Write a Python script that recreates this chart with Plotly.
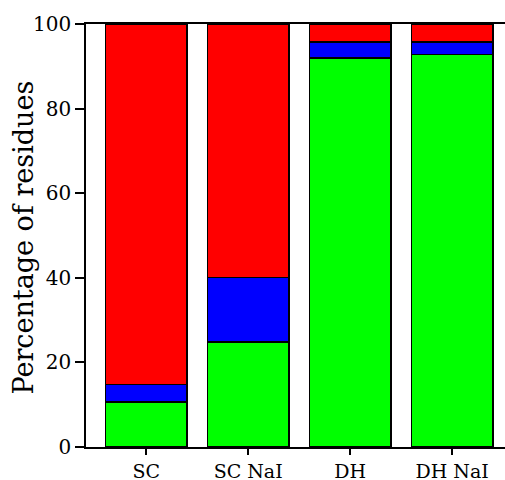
import plotly.graph_objects as go

categories = ["SC", "SC NaI", "DH", "DH NaI"]
green_vals = [10.6, 24.8, 92.0, 92.8]
blue_vals = [4.2, 15.3, 3.7, 2.9]
red_vals = [100 - g - b for g, b in zip(green_vals, blue_vals)]
y_title = "Percentage of residues"

fig = go.Figure()
x = list(range(len(categories)))
for vals, color in [(green_vals, "#00ff00"), (blue_vals, "#0000ff"), (red_vals, "#ff0000")]:
    fig.add_trace(go.Bar(
        x=x, y=vals, width=0.8,
        marker=dict(color=color, line=dict(color="black", width=1.5)),
        showlegend=False,
    ))

font_family = "DejaVu Serif"
fig.update_layout(
    barmode="stack",
    width=505, height=480,
    margin=dict(l=86, r=0, t=24, b=33, autoexpand=False),
    plot_bgcolor="white", paper_bgcolor="white",
    font=dict(family=font_family, color="black"),
)
fig.add_annotation(
    text=y_title, textangle=-90, showarrow=False,
    xref="paper", yref="paper", x=0, y=0.5,
    xanchor="center", yanchor="middle", xshift=-63, yshift=-2,
    font=dict(size=27, family=font_family, color="black"),
)
fig.update_xaxes(
    range=[-0.59, 3.518],
    tickmode="array", tickvals=x, ticktext=categories,
    tickfont=dict(size=19, family=font_family),
    showline=True, linecolor="black", linewidth=1.5, mirror=True,
    ticks="outside", ticklen=6, tickwidth=1.5, tickcolor="black",
    showgrid=False, zeroline=False, automargin=False,
)
fig.update_yaxes(
    range=[0, 100],
    tickvals=[0, 20, 40, 60, 80, 100],
    tickfont=dict(size=20, family=font_family),
    showline=True, linecolor="black", linewidth=1.5,
    ticks="outside", ticklen=9, tickwidth=1.5, tickcolor="black",
    showgrid=False, zeroline=False, automargin=False,
)
fig.write_html("out.html", config={"displayModeBar": False},
               post_script="document.body.style.margin='0px';")
